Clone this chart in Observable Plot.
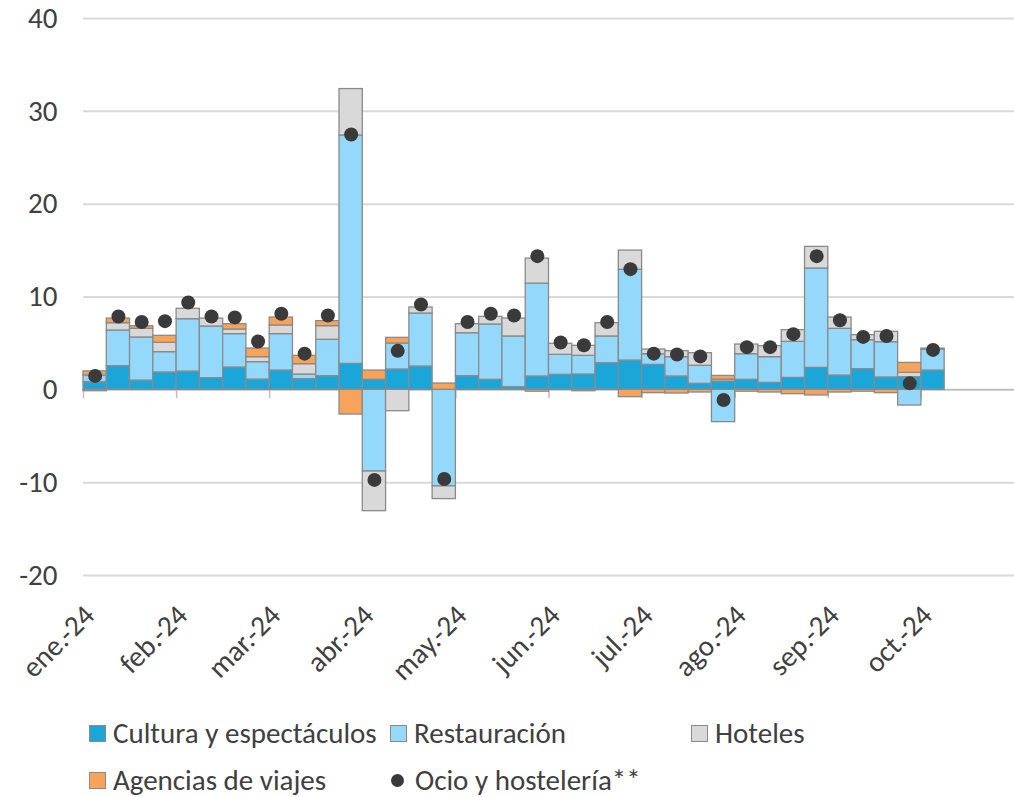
<!DOCTYPE html>
<html>
<head>
<meta charset="utf-8">
<script src="https://cdn.jsdelivr.net/npm/d3@7"></script>
<script src="https://cdn.jsdelivr.net/npm/@observablehq/plot@0.6"></script>
<style>
  html, body { margin: 0; padding: 0; background: #fff; }
  #wrap { position: relative; width: 1014px; height: 797px; overflow: hidden; font-family: Carlito, Calibri, Lato, sans-serif; color: #404040; }
  #legend { position: absolute; left: 0; top: 0; width: 1014px; height: 797px; pointer-events: none; }
  .item { position: absolute; display: flex; align-items: center; font-size: 29px; line-height: 1; white-space: nowrap; }
  .sw { width: 15px; height: 15px; border: 1px solid #8a8a8a; margin-right: 7px; box-sizing: content-box; }
  .dotsw { width: 13px; height: 13px; border-radius: 50%; background: #3a3a3a; margin-right: 11px; }
</style>
</head>
<body>
<div id="wrap"><div id="chart"></div><div id="legend"></div></div>
<script>
// Month tick labels (one every 4 weeks)
const months = ["ene.-24","feb.-24","mar.-24","abr.-24","may.-24","jun.-24","jul.-24","ago.-24","sep.-24","oct.-24"];
// Series names
const seriesNames = ["Cultura y espectáculos","Restauración","Hoteles","Agencias de viajes"];
const totalName = "Ocio y hostelería**";
// Weekly contributions
const cultura = [0.82,2.55,1.0,1.87,1.97,1.26,2.4,1.11,2.08,1.15,1.47,2.8,1.08,2.19,2.51,0,1.47,1.08,0.29,1.44,1.62,1.65,2.87,3.16,2.69,1.44,0.65,0.9,1.08,0.75,1.29,2.37,1.54,2.23,1.33,1.36,2.08];
const restauracion = [0.72,3.84,4.64,2.19,5.64,5.56,3.6,1.87,3.92,0.5,3.92,24.6,-8.8,2.8,5.71,-10.4,4.63,5.96,5.46,10.0,2.15,2.01,2.88,9.77,1.15,2.08,1.94,-3.48,2.76,2.77,3.88,10.7,5.03,3.12,3.8,-1.69,2.26];
const hoteles = [-0.15,0.79,0.93,1.0,1.12,0.86,0.5,0.54,0.93,1.11,1.47,5.0,-4.27,-2.3,0.65,-1.37,0.97,0.82,1.93,2.7,1.19,1.08,1.43,2.07,0.5,0.65,1.36,0.2,1.04,1.18,1.26,2.33,1.22,0.54,1.12,0.47,0.1];
const agencias = [0.45,0.5,0.29,0.76,0,0,0.57,0.93,0.86,0.9,0.54,-2.66,1.0,0.61,0,0.68,0,0,0,-0.2,0,-0.15,0,-0.79,-0.36,-0.4,-0.29,0.4,-0.2,-0.29,-0.47,-0.61,-0.29,-0.2,-0.36,1.07,0];
const ocio = [1.5,7.9,7.3,7.4,9.4,7.9,7.8,5.2,8.2,3.9,8.0,27.5,-9.7,4.2,9.2,-9.6,7.3,8.2,8.0,14.4,5.1,4.8,7.3,13.0,3.9,3.8,3.6,-1.1,4.6,4.6,6.0,14.4,7.5,5.7,5.8,0.7,4.3];
const yTicks = [-20,-10,0,10,20,30,40];
const colors = ["#1ba6da","#94d9fc","#d9d9d9","#f8a35a"];

const seriesValues = [cultura, restauracion, hoteles, agencias];
const rows = [];
seriesValues.forEach((arr, s) => arr.forEach((v, i) => rows.push({i, series: seriesNames[s], value: v})));
rows.sort((a, b) => a.i - b.i || seriesNames.indexOf(a.series) - seriesNames.indexOf(b.series));
const dots = ocio.map((v, i) => ({i, value: v}));
const monthTicks = months.map((m, k) => k * 4);

const chart = Plot.plot({
  width: 1014,
  height: 705,
  marginLeft: 83,
  marginRight: 0,
  marginTop: 18,
  marginBottom: 130,
  style: {fontFamily: "Carlito, Calibri, Lato, sans-serif", fontSize: "29px", color: "#404040", background: "#fff", overflow: "visible"},
  x: {domain: [0, 40]},
  y: {domain: [-20, 40]},
  color: {domain: seriesNames, range: colors},
  marks: [
    Plot.gridY(yTicks.filter(t => t !== 0), {stroke: "#d9d9d9", strokeOpacity: 1, strokeWidth: 2}),
    Plot.ruleY([0], {stroke: "#bfbfbf", strokeWidth: 2}),
    Plot.axisY(yTicks, {tickSize: 0, tickPadding: 26, fontSize: 29, fill: "#404040", label: null, tickFormat: d => String(d)}),
    Plot.ruleX(monthTicks, {y1: 0, y2: -0.95, stroke: "#bfbfbf", strokeWidth: 1.5}),
    Plot.rectY(rows, {x1: "i", x2: d => d.i + 1, y: "value", fill: "series", stroke: "#8a8a8a", strokeWidth: 1.3}),
    Plot.axisX(monthTicks, {tickSize: 0, tickPadding: 35, tickRotate: -45, textAnchor: "end", tickFormat: (d, k) => months[k], fontSize: 29, fill: "#404040", label: null, dx: 6}),
    Plot.dot(dots, {x: d => d.i + 0.5, y: "value", r: 7, fill: "#3a3a3a", stroke: "none"})
  ]
});
document.getElementById("chart").appendChild(chart);

// Legend
const legendItems = [
  {name: seriesNames[0], color: colors[0], left: 89, top: 719},
  {name: seriesNames[1], color: colors[1], left: 390, top: 719},
  {name: seriesNames[2], color: colors[2], left: 691, top: 719},
  {name: seriesNames[3], color: colors[3], left: 89, top: 766},
  {name: totalName, dot: true, left: 391, top: 766}
];
const leg = document.getElementById("legend");
legendItems.forEach(it => {
  const d = document.createElement("div");
  d.className = "item";
  d.style.left = it.left + "px";
  d.style.top = it.top + "px";
  const sw = document.createElement("span");
  if (it.dot) { sw.className = "dotsw"; } else { sw.className = "sw"; sw.style.background = it.color; }
  d.appendChild(sw);
  const t = document.createElement("span");
  t.textContent = it.name;
  d.appendChild(t);
  leg.appendChild(d);
});
</script>
</body>
</html>
